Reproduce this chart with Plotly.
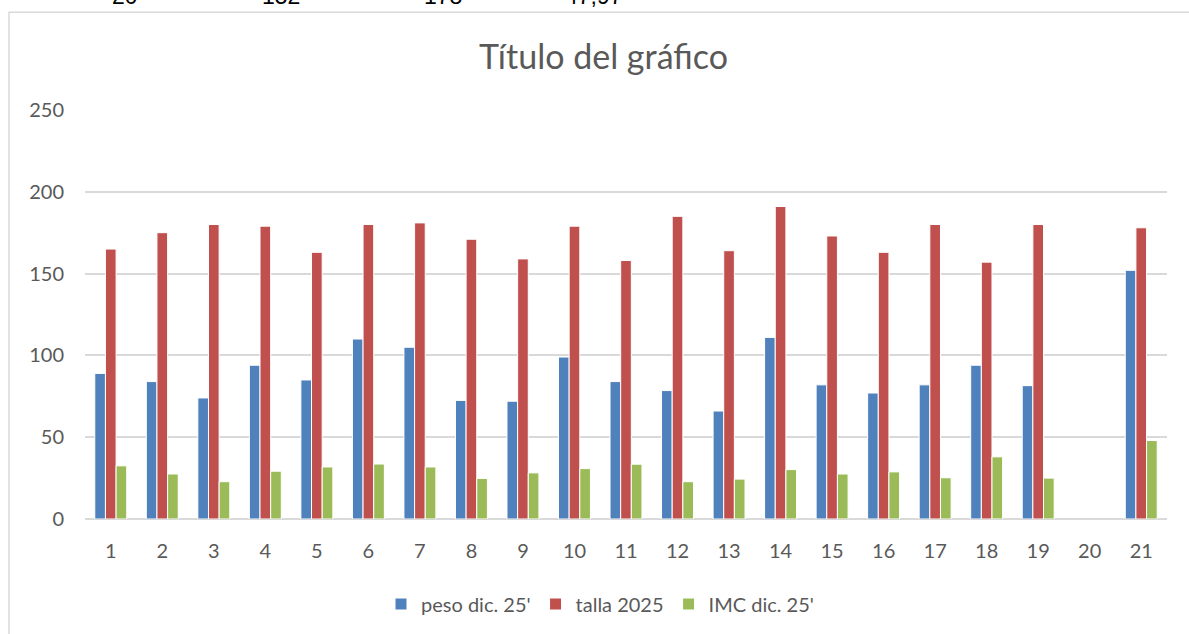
# Gráfico de barras agrupadas: peso, talla e IMC por participante
import plotly.graph_objects as go

# Datos
categorias = [str(i) for i in range(1, 22)]
peso = [89, 84, 74, 94, 85, 110, 105, 72.5, 72, 99, 84, 78.5, 66, 111, 82, 77, 82, 94, 81.5, None, 152]
talla = [165, 175, 180, 179, 163, 180, 181, 171, 159, 179, 158, 185, 164, 191, 173, 163, 180, 157, 180, None, 178]
imc = [32.5, 27.5, 22.8, 29.2, 31.8, 33.6, 31.8, 24.8, 28.2, 30.8, 33.5, 22.8, 24.4, 30.2, 27.5, 28.8, 25.2, 38, 25, None, 47.97]

# Fila de la hoja visible arriba (recortada)
fila_superior = ["20", "152", "178", "47,97"]
fila_x = [125, 281, 443, 594]

gris = '#595959'
fuente = 'Lato'

fig = go.Figure()
fig.add_trace(go.Bar(x=categorias, y=peso, name="peso dic. 25'",
                     marker=dict(color='#4F81BD', line=dict(color='white', width=1))))
fig.add_trace(go.Bar(x=categorias, y=talla, name='talla 2025',
                     marker=dict(color='#C0504D', line=dict(color='white', width=1))))
fig.add_trace(go.Bar(x=categorias, y=imc, name="IMC dic. 25'",
                     marker=dict(color='#9BBB59', line=dict(color='white', width=1))))

# margenes en pixeles -> area de trazado 85..1167 x 110..520
W, H = 1189, 634
L, T = 85, 110
pw, ph = 1082, 410
R, B = W - L - pw, H - T - ph

def px_x(x):
    return (x - L) / pw

def px_y(y):
    return (T + ph - y) / ph

fig.update_layout(
    width=W, height=H,
    margin=dict(l=L, r=R, t=T, b=B),
    paper_bgcolor='white', plot_bgcolor='white',
    barmode='group', bargap=0.38, bargroupgap=0,
    font=dict(family=fuente, color=gris, size=20),
    showlegend=True,
    legend=dict(orientation='h', x=px_x(600), xanchor='center', y=px_y(604), yanchor='middle',
                font=dict(size=20, color=gris), traceorder='normal',
                itemwidth=30, tracegroupgap=0),
    annotations=[dict(text='Título del gráfico', x=px_x(603), y=px_y(55), xref='paper', yref='paper',
                      xanchor='center', yanchor='middle', showarrow=False,
                      font=dict(size=34, color=gris, family=fuente))]
                + [dict(text=t, x=px_x(x), y=px_y(-4), xref='paper', yref='paper', showarrow=False,
                        xanchor='center', yanchor='middle',
                        font=dict(size=23, color='black', family='Liberation Sans'))
                   for t, x in zip(fila_superior, fila_x)],
    shapes=[dict(type='rect', xref='paper', yref='paper', x0=px_x(9), x1=px_x(1205),
                 y0=px_y(660), y1=px_y(12), line=dict(color='#D9D9D9', width=1.5),
                 fillcolor='rgba(0,0,0,0)', layer='below')],
)

fig.update_xaxes(type='category', showgrid=False, showline=False, zeroline=False,
                 ticks='outside', ticklen=14, tickcolor='white',
                 tickfont=dict(size=20, color=gris))
fig.update_yaxes(range=[0, 250], dtick=50, showgrid=True, gridcolor='#D9D9D9', gridwidth=1.5,
                 zeroline=True, zerolinecolor='#D9D9D9', zerolinewidth=1.5, showline=False,
                 ticks='outside', ticklen=16, tickcolor='white',
                 tickfont=dict(size=20, color=gris))

# sin margen en el body para que la figura ocupe la ventana
fig.write_html('out.html', config={'displayModeBar': False},
               post_script="document.body.style.margin='0';")
